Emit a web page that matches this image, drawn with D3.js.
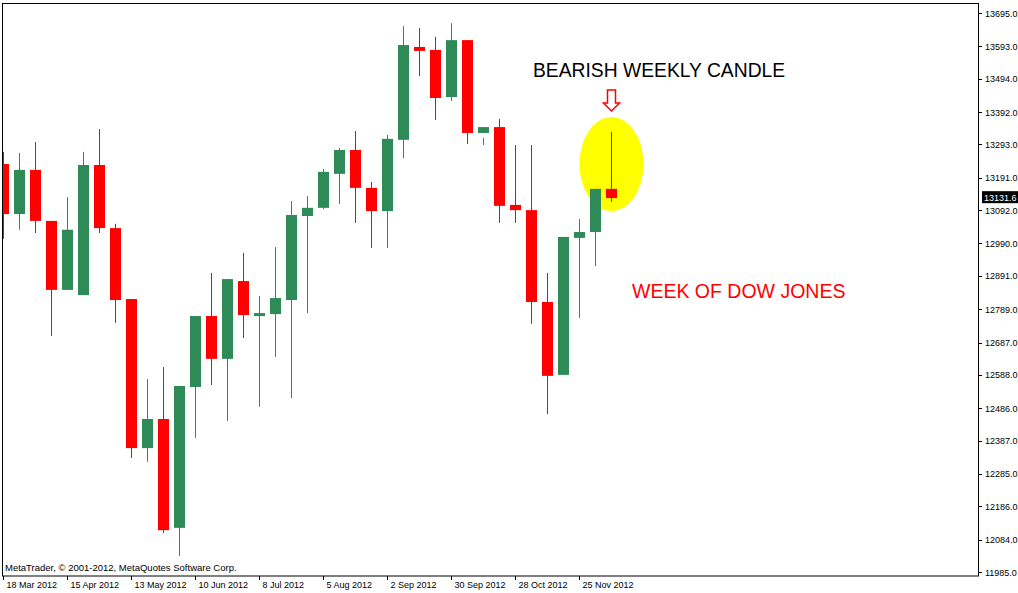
<!DOCTYPE html>
<html><head><meta charset="utf-8">
<script src="https://cdnjs.cloudflare.com/ajax/libs/d3/7.8.5/d3.min.js"></script>
<style>body{margin:0;background:#fff}svg{display:block}</style></head>
<body><svg id="c" width="1018" height="593"></svg>
<script>
const open  = [13233,13080,13215,13059,12848,12832,13230,13037,12820,12364,12453,12120,12551,12768,12637,12875,12768,12774,12817,13074,13099,13203,13276,13160,13089,13307,13591,13582,13438,13612,13328,13346,13108,13092,12811,12588,13007,13025,13157];
const close = [13080,13215,13059,12848,13032,13230,13037,12817,12364,12453,12113,12554,12768,12637,12881,12771,12777,12823,13077,13099,13209,13276,13160,13089,13310,13597,13579,13435,13612,13328,13346,13105,13092,12811,12585,13010,13025,13157,13129];
const high  = [13270,13267,13300,13059,13132,13270,13340,13050,12820,12575,12612,12554,12768,12900,12881,12961,12829,12979,13120,13135,13218,13282,13334,13178,13322,13655,13649,13622,13664,13612,13291,13371,13291,13291,12900,13010,13065,13157,13331];
const low   = [13004,13032,13022,12707,12848,12845,13022,12747,12334,12322,12104,12034,12395,12557,12447,12701,12490,12643,12517,12777,13095,13111,13053,12976,12976,13251,13502,13368,13426,13294,13313,13053,13053,12744,12468,12588,12762,12921,13117];
const yTicks = [13695,13593,13494,13392,13293,13191,13092,12990,12891,12789,12687,12588,12486,12387,12285,12186,12084,11985];
const xLabels = [[0,"18 Mar 2012"],[4,"15 Apr 2012"],[8,"13 May 2012"],[12,"10 Jun 2012"],[16,"8 Jul 2012"],[20,"5 Aug 2012"],[24,"2 Sep 2012"],[28,"30 Sep 2012"],[32,"28 Oct 2012"],[36,"25 Nov 2012"]];
const lastPrice = 13131.6;

const svg = d3.select("#c");
const L=2,R=978,T=4,B=576;
const y = d3.scaleLinear().domain([11985,13695]).range([572,13]);
const x = d3.scaleLinear().domain([0,1]).range([3.5,19.5]);
const green="#2e8b57", red="#ff0000";
const FONT="Liberation Sans, Arial, sans-serif";

svg.append("defs").append("clipPath").attr("id","clip").append("rect").attr("x",L+1).attr("y",T+1).attr("width",R-L-1).attr("height",B-T-1);
const g = svg.append("g").attr("clip-path","url(#clip)");

g.append("ellipse").attr("cx",x(38)).attr("cy",164).attr("rx",32).attr("ry",47).attr("fill","#ffff00");

open.forEach((o,i)=>{
  const c=close[i], col = c>=o?green:red, cx=x(i);
  g.append("line").attr("x1",cx).attr("x2",cx).attr("y1",y(high[i])).attr("y2",y(low[i])).attr("stroke",col).attr("stroke-width",1);
  const t=y(Math.max(o,c)), b=y(Math.min(o,c));
  g.append("rect").attr("x",cx-5.5).attr("width",11).attr("y",t).attr("height",Math.max(b-t,3)).attr("fill",col);
});

svg.append("rect").attr("x",L+0.5).attr("y",T-0.5).attr("width",R-L).attr("height",B-T+0.5).attr("fill","none").attr("stroke","#000");

const ya = svg.append("g").attr("font-family",FONT).attr("font-size","9px");
yTicks.forEach(v=>{
  ya.append("line").attr("x1",R).attr("x2",R+4).attr("y1",Math.round(y(v))+0.5).attr("y2",Math.round(y(v))+0.5).attr("stroke","#000");
  ya.append("text").attr("x",R+7).attr("y",y(v)+3.5).text(v.toFixed(1));
});
ya.append("rect").attr("x",R+4).attr("y",y(lastPrice)-6).attr("width",36).attr("height",12).attr("fill","#000");
ya.append("text").attr("x",R+6).attr("y",y(lastPrice)+3.5).attr("fill","#fff").text(lastPrice.toFixed(1));

const xa = svg.append("g").attr("font-family",FONT).attr("font-size","9px");
xLabels.forEach(([i,s])=>{
  const px=Math.round(x(i))-0.5;
  xa.append("line").attr("x1",px).attr("x2",px).attr("y1",B).attr("y2",B+4).attr("stroke","#000");
  xa.append("text").attr("x",px+3).attr("y",B+12).text(s);
});

svg.append("text").attr("x",5).attr("y",571).attr("font-family",FONT).attr("font-size","9.5px").text("MetaTrader, © 2001-2012, MetaQuotes Software Corp.");

svg.append("text").attr("x",533).attr("y",77).attr("font-family",FONT).attr("font-size","19.3px").attr("fill","#000").text("BEARISH WEEKLY CANDLE");
svg.append("text").attr("x",632).attr("y",298).attr("font-family",FONT).attr("font-size","19.5px").attr("fill","#ff0000").text("WEEK OF DOW JONES");
const ax=x(38);
svg.append("path").attr("d",`M${ax-4},90 H${ax+4} V103 H${ax+8} L${ax},111 L${ax-8},103 H${ax-4} Z`).attr("fill","#fff").attr("stroke","#ff0000").attr("stroke-width",1.5);
</script></body></html>
